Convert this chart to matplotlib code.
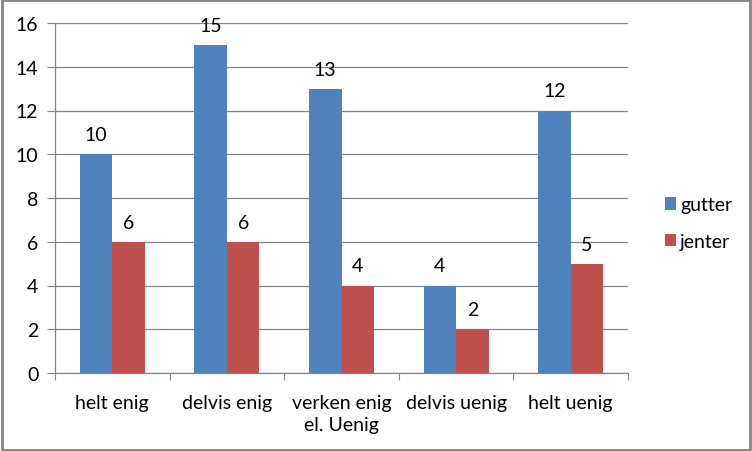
import numpy as np
import matplotlib.pyplot as plt
from matplotlib.patches import Rectangle

# ----- Data ----- #
categories = ["helt enig", "delvis enig", "verken enig\nel. Uenig", "delvis uenig", "helt uenig"]
gutter = [10, 15, 13, 4, 12]
jenter = [6, 6, 4, 2, 5]

plt.rcParams['font.family'] = ['Lato', 'DejaVu Sans']
FS = 14

fig = plt.figure(figsize=(7.52, 4.52), dpi=100)
ax = fig.add_axes([55 / 752, 1 - 374 / 452, (628 - 55) / 752, (374 - 24) / 452])

x = np.arange(len(categories))
w = 0.284
blue = "#4F81BD"
red = "#C0504D"
b1 = ax.bar(x - w / 2, gutter, w, color=blue, label="gutter", zorder=3)
b2 = ax.bar(x + w / 2, jenter, w, color=red, label="jenter", zorder=3)

# value labels
for bars in (b1, b2):
    for r in bars:
        ax.annotate(f"{int(r.get_height())}", (r.get_x() + r.get_width() / 2, r.get_height()),
                    xytext=(0, 8), textcoords="offset points", ha="center", va="bottom",
                    fontsize=FS, color="black")

ax.set_xlim(-0.5, len(categories) - 0.5)
ax.set_ylim(0, 16)
ax.set_yticks(range(0, 17, 2))
ax.yaxis.grid(True, color="#868686", linewidth=0.9, zorder=0)

# ticks at category boundaries, labels at centers
ax.set_xticks(np.arange(-0.5, len(categories), 1))
ax.set_xticklabels([])
ax.set_xticks(x, minor=True)
ax.set_xticklabels(categories, minor=True, fontsize=FS, linespacing=1.35)
ax.tick_params(axis="x", which="minor", length=0, pad=15)
ax.tick_params(axis="x", which="major", length=5, color="#868686", direction="out")
ax.tick_params(axis="y", length=6, color="#868686", labelsize=FS, pad=6)

for s in ("top", "right"):
    ax.spines[s].set_visible(False)
for s in ("left", "bottom"):
    ax.spines[s].set_color("#868686")
    ax.spines[s].set_linewidth(0.9)

fig.legend(handles=[b1, b2], labels=["gutter", "jenter"], loc="center left",
           bbox_to_anchor=(647 / 752, 1 - 224 / 452), frameon=False, fontsize=FS,
           handlelength=0.6, handleheight=0.6, handletextpad=0.2, labelspacing=1.0)

# outer border
fig.patches.append(Rectangle((0.002, 0.003), 0.996, 0.994, transform=fig.transFigure,
                             fill=False, edgecolor="#868686", linewidth=2))

fig.savefig("out.png", dpi=100)
